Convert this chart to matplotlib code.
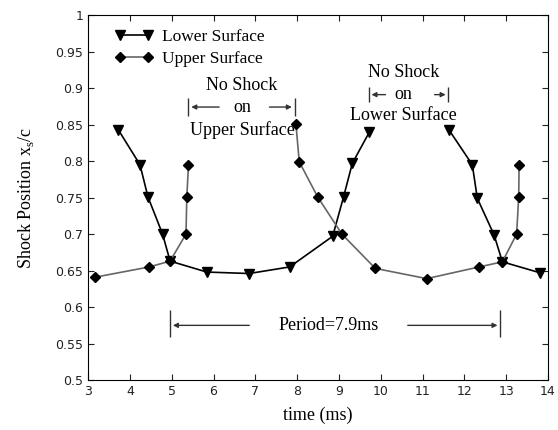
import matplotlib
matplotlib.use('Agg')
import matplotlib.pyplot as plt
import numpy as np

## Lower surface shock position (nan = no shock)
t_lower = [3.72, 4.24, 4.43, 4.78, 4.96, 5.84, 6.85, 7.82, 8.85, 9.11, 9.32, 9.73,
           np.nan, 11.64, 12.19, 12.31, 12.71, 12.91, 13.81]
x_lower = [0.843, 0.795, 0.751, 0.700, 0.663, 0.648, 0.646, 0.655, 0.697, 0.751, 0.797, 0.840,
           np.nan, 0.842, 0.795, 0.749, 0.699, 0.662, 0.647]

## Upper surface shock position
t_upper = [3.17, 4.46, 4.96, 5.34, 5.36, 5.40,
           np.nan, 7.97, 8.05, 8.49, 9.07, 9.87, 11.10, 12.35, 12.91, 13.25, 13.30, 13.31]
x_upper = [0.641, 0.655, 0.663, 0.700, 0.751, 0.795,
           np.nan, 0.851, 0.799, 0.751, 0.700, 0.653, 0.639, 0.655, 0.662, 0.700, 0.751, 0.795]

serif = ['Liberation Serif', 'DejaVu Serif']
plt.rcParams['mathtext.fontset'] = 'custom'
plt.rcParams['mathtext.rm'] = 'Liberation Serif'

fig = plt.figure(figsize=(5.58, 4.30), dpi=100)
ax = fig.add_axes([0.158, 0.116, 0.824, 0.849])

ax.plot(t_lower, x_lower, color='black', lw=1.2, marker='v', ms=6.5, label='Lower Surface')
ax.plot(t_upper, x_upper, color='#666666', lw=1.2, marker='D', ms=5,
        mfc='black', mec='black', label='Upper Surface')

ax.set_xlim(3, 14)
ax.set_ylim(0.5, 1.0)
ax.set_xticks(np.arange(3, 15, 1))
ax.set_yticks(np.arange(0.5, 1.001, 0.05))
ax.set_yticklabels(['0.5', '0.55', '0.6', '0.65', '0.7', '0.75', '0.8', '0.85', '0.9', '0.95', '1'])
ax.tick_params(direction='in', top=True, right=True, labelsize=9, length=4, colors='#222')

ax.set_xlabel('time (ms)', family=serif, fontsize=13, labelpad=6)
ax.set_ylabel(r'Shock Position x$_\mathrm{s}$/c', family=serif, fontsize=13, labelpad=14)

leg = ax.legend(loc='upper left', bbox_to_anchor=(0.035, 0.99), frameon=False,
                prop={'family': serif, 'size': 12.5},
                numpoints=2, handlelength=2.2, borderaxespad=0.2, labelspacing=0.3,
                handletextpad=0.5)

## "No Shock on Upper Surface" bracket
yb = 0.874
ax.annotate('', xy=(5.40, yb), xytext=(6.2, yb),
            arrowprops=dict(arrowstyle='-|>', color='#333', lw=1, mutation_scale=7))
ax.annotate('', xy=(7.94, yb), xytext=(7.27, yb),
            arrowprops=dict(arrowstyle='-|>', color='#333', lw=1, mutation_scale=7))
ax.vlines([5.40, 7.94], yb - 0.012, yb + 0.012, color='#333', lw=1)
ax.text(6.68, 0.904, 'No Shock', ha='center', va='center', family=serif, fontsize=13)
ax.text(6.68, 0.874, 'on', ha='center', va='center', family=serif, fontsize=13)
ax.text(6.68, 0.842, 'Upper Surface', ha='center', va='center', family=serif, fontsize=13)

## "No Shock on Lower Surface" bracket
yb = 0.891
ax.annotate('', xy=(9.71, yb), xytext=(10.18, yb),
            arrowprops=dict(arrowstyle='-|>', color='#333', lw=1, mutation_scale=7))
ax.annotate('', xy=(11.62, yb), xytext=(11.22, yb),
            arrowprops=dict(arrowstyle='-|>', color='#333', lw=1, mutation_scale=7))
ax.vlines([9.71, 11.62], yb - 0.01, yb + 0.01, color='#333', lw=1)
ax.text(10.54, 0.922, 'No Shock', ha='center', va='center', family=serif, fontsize=13)
ax.text(10.54, 0.891, 'on', ha='center', va='center', family=serif, fontsize=13)
ax.text(10.54, 0.863, 'Lower Surface', ha='center', va='center', family=serif, fontsize=13)

## Period bracket
yp = 0.575
ax.annotate('', xy=(4.96, yp), xytext=(6.92, yp),
            arrowprops=dict(arrowstyle='-|>', color='#333', lw=1, mutation_scale=7))
ax.annotate('', xy=(12.86, yp), xytext=(10.58, yp),
            arrowprops=dict(arrowstyle='-|>', color='#333', lw=1, mutation_scale=7))
ax.vlines([4.96, 12.86], 0.559, 0.596, color='#333', lw=1)
ax.text(8.75, yp, 'Period=7.9ms', ha='center', va='center', family=serif, fontsize=13)

fig.savefig('out.png', dpi=100)
